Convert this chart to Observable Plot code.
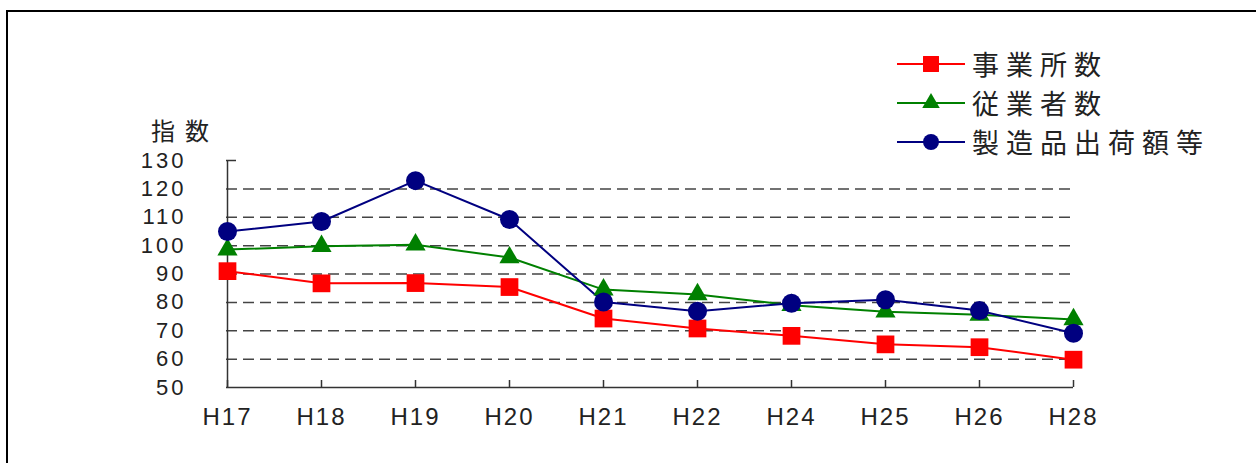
<!DOCTYPE html>
<html>
<head>
<meta charset="utf-8">
<script src="https://cdn.jsdelivr.net/npm/d3@7"></script>
<script src="https://cdn.jsdelivr.net/npm/@observablehq/plot@0.6"></script>
<style>
  html, body { margin: 0; padding: 0; background: #fff; }
  #wrap { position: relative; width: 1256px; height: 463px; overflow: hidden; background: #fff; }
  #chart { position: absolute; left: 0; top: 0; }
  #chart svg text { font-family: "Liberation Sans", sans-serif !important; fill: #222; }
  #chart svg g[aria-label="y-axis tick label"] text { letter-spacing: 3px; font-size: 22px !important; }
  #chart svg g[aria-label="x-axis tick label"] text { letter-spacing: 2px; font-size: 24px !important; }
  #frame { position: absolute; left: 6px; top: 10px; width: 1300px; height: 500px;
           border-left: 2px solid #000; border-top: 2px solid #000; }
  #ylabel { position: absolute; left: 151px; top: 115px; font-family: "Noto Sans CJK JP", sans-serif;
            font-size: 24px; letter-spacing: 10px; color: #222; line-height: 30px; }
  #legend { position: absolute; left: 897px; top: 44px; font-family: "Noto Sans CJK JP", sans-serif;
            font-size: 27px; letter-spacing: 7px; color: #222; }
  .row { display: flex; align-items: center; height: 39px; }
  .row svg { display: block; margin-right: 7px; }
</style>
</head>
<body>
<div id="wrap">
  <div id="chart"></div>
  <div id="frame"></div>
  <div id="ylabel">指数</div>
  <div id="legend"></div>
</div>
<script>
const years = ["H17","H18","H19","H20","H21","H22","H24","H25","H26","H28"];
const establishments = [91.0, 86.7, 86.8, 85.4, 74.3, 70.8, 68.2, 65.2, 64.2, 59.8];
const employees = [98.6, 99.8, 100.3, 95.8, 84.5, 82.8, 79.0, 76.7, 75.6, 74.0];
const shipments = [105.0, 108.5, 122.9, 109.2, 80.1, 76.9, 79.7, 80.9, 77.1, 69.1];
const seriesNames = ["事業所数", "従業者数", "製造品出荷額等"];
const seriesColors = ["#ff0000", "#008000", "#000080"];
const seriesSymbols = ["square", "triangle", "circle"];
const yTicks = [50, 60, 70, 80, 90, 100, 110, 120, 130];
const gridTicks = [60, 70, 80, 90, 100, 110, 120];

const seriesValues = [establishments, employees, shipments];
const data = seriesValues.flatMap((vals, i) =>
  vals.map((v, j) => ({year: years[j], value: v, series: seriesNames[i]})));

const marks = [
  Plot.ruleY(gridTicks, {stroke: "#444", strokeWidth: 1.5, strokeDasharray: "11,6"}),
  Plot.ruleY([50], {stroke: "#333", strokeWidth: 1.5}),
  Plot.ruleX([years[0]], {stroke: "#333", strokeWidth: 1.5}),
  Plot.axisY({ticks: yTicks, tickSize: 0, tickPadding: 40, fontSize: 22, fill: "#222"}),
  Plot.axisY({ticks: [130], tickSize: 10, dx: 10, text: null, stroke: "#333", strokeWidth: 1.5}),
  Plot.axisX({tickSize: 0, tickPadding: 20, fontSize: 24, fill: "#222"}),
  Plot.axisX({tickSize: 7, dy: -7, text: null, stroke: "#333", strokeWidth: 1.5})
];
seriesNames.forEach((name, i) => {
  const d = data.filter(r => r.series === name);
  marks.push(Plot.line(d, {x: "year", y: "value", stroke: seriesColors[i], strokeWidth: 2}));
});
seriesNames.forEach((name, i) => {
  const d = data.filter(r => r.series === name);
  const r = seriesSymbols[i] === "square" ? 10 : seriesSymbols[i] === "triangle" ? 7.5 : 9.5;
  marks.push(Plot.dot(d, {x: "year", y: "value", symbol: () => seriesSymbols[i], fill: seriesColors[i], stroke: "none", r}));
});

const chart = Plot.plot({
  width: 1256,
  height: 463,
  marginLeft: 226,
  marginRight: 183,
  marginTop: 160,
  marginBottom: 76,
  style: {background: "transparent", fontFamily: "Liberation Sans, sans-serif"},
  x: {type: "point", domain: years, padding: 0, label: null},
  y: {domain: [50, 130], label: null},
  symbol: {domain: seriesSymbols, range: seriesSymbols},
  marks
});
document.getElementById("chart").appendChild(chart);

// legend
const legend = document.getElementById("legend");
seriesNames.forEach((name, i) => {
  const row = document.createElement("div");
  row.className = "row";
  const ns = "http://www.w3.org/2000/svg";
  const s = document.createElementNS(ns, "svg");
  s.setAttribute("width", 68); s.setAttribute("height", 24);
  const ln = document.createElementNS(ns, "line");
  ln.setAttribute("x1", 0); ln.setAttribute("x2", 68); ln.setAttribute("y1", 12); ln.setAttribute("y2", 12);
  ln.setAttribute("stroke", seriesColors[i]); ln.setAttribute("stroke-width", 2);
  s.appendChild(ln);
  const p = document.createElementNS(ns, "path");
  const sym = {square: d3.symbolSquare, triangle: d3.symbolTriangle, circle: d3.symbolCircle}[seriesSymbols[i]];
  const rr = seriesSymbols[i] === "square" ? 9 : seriesSymbols[i] === "triangle" ? 6.5 : 8;
  p.setAttribute("d", d3.symbol(sym, Math.PI * rr * rr)());
  p.setAttribute("transform", "translate(34,12)");
  p.setAttribute("fill", seriesColors[i]);
  s.appendChild(p);
  row.appendChild(s);
  const t = document.createElement("span");
  t.textContent = name;
  row.appendChild(t);
  legend.appendChild(row);
});
</script>
</body>
</html>
